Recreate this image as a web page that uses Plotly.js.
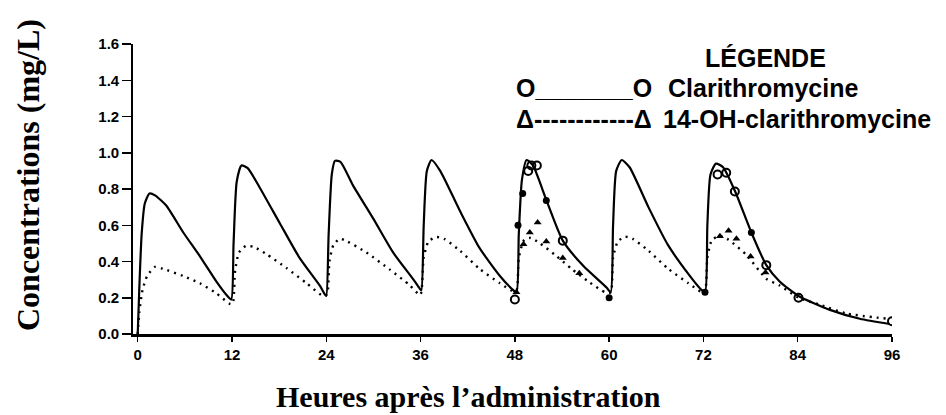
<!DOCTYPE html>
<html>
<head>
<meta charset="utf-8">
<script src="https://cdn.plot.ly/plotly-3.0.1.min.js"></script>
<style>
html,body{margin:0;padding:0;background:#fff;}
#chart{width:946px;height:415px;}
</style>
</head>
<body>
<div id="chart"></div>
<script>
// ---- Data (hours, mg/L) ----
// Clarithromycine model curve (solid line)
var clariT = [0,0.2,0.5,0.9,1.5,2.2,3.6,5.8,7.9,10.0,11.3,
  11.9,12.2,12.6,13.2,14.0,15.5,18.1,20.6,23.2,23.8,
  24.0,24.3,24.7,25.1,25.8,27.4,30.0,32.5,35.1,35.9,
  36.1,36.4,36.8,37.4,38.5,41.0,43.5,46.1,47.6,
  48.2,48.5,48.9,49.5,50.3,52.0,54.1,56.7,59.7,
  60.2,60.5,60.9,61.6,62.6,65.0,67.5,70.1,71.6,
  72.2,72.5,72.9,73.6,74.5,76.0,78.1,80.0,81.7,84.1,88.1,91.9,95.7];
var clariC = [0,0.25,0.55,0.72,0.775,0.765,0.71,0.56,0.43,0.29,0.215,
  0.19,0.5,0.84,0.93,0.915,0.81,0.61,0.42,0.265,0.22,
  0.21,0.55,0.88,0.955,0.95,0.82,0.635,0.45,0.30,0.25,
  0.24,0.6,0.9,0.96,0.9,0.68,0.475,0.32,0.25,
  0.23,0.55,0.85,0.96,0.93,0.74,0.515,0.376,0.255,
  0.23,0.6,0.9,0.96,0.92,0.70,0.49,0.33,0.25,
  0.23,0.6,0.88,0.94,0.92,0.79,0.56,0.38,0.29,0.21,0.133,0.084,0.055];
// 14-OH-clarithromycine model curve (dotted line)
var ohT = [0,0.2,0.6,1.2,2.2,3.2,5.8,7.9,10.0,11.8,
  12.1,12.4,12.9,13.8,14.8,16.4,18.9,21.5,23.6,
  24.1,24.4,24.9,25.7,26.7,29.1,32.1,34.6,35.9,
  36.1,36.4,37.0,38.0,39.0,41.0,43.5,46.1,47.6,
  48.2,48.5,49.2,50.0,51.2,53.3,55.2,57.5,59.5,
  60.2,60.5,61.1,62.0,63.0,65.0,67.5,70.1,71.8,
  72.2,72.5,73.1,74.1,75.2,77.5,80.0,81.7,84.1,86.8,90.2,95.7];
var ohC = [0,0.12,0.24,0.32,0.37,0.36,0.32,0.28,0.225,0.165,
  0.17,0.35,0.45,0.487,0.48,0.44,0.365,0.28,0.21,
  0.22,0.4,0.49,0.525,0.51,0.45,0.355,0.27,0.215,
  0.23,0.42,0.51,0.535,0.525,0.46,0.36,0.28,0.24,
  0.24,0.42,0.52,0.53,0.5,0.43,0.36,0.285,0.23,
  0.23,0.42,0.51,0.537,0.525,0.46,0.36,0.28,0.23,
  0.23,0.42,0.52,0.54,0.52,0.435,0.305,0.268,0.20,0.162,0.113,0.083];
// Observed points
var clariOpenT = [48.0,49.7,50.1,50.8,54.1,73.8,74.9,76.0,80.0,84.1,96.0];
var clariOpenC = [0.19,0.90,0.93,0.93,0.515,0.88,0.89,0.786,0.38,0.20,0.07];
var clariFillT = [48.4,49.0,52.0,60.0,72.2,78.1];
var clariFillC = [0.60,0.775,0.737,0.20,0.23,0.56];
var ohPtT = [48.2,49.1,49.9,50.9,52.0,54.1,56.2,74.1,75.2,76.2,78.0,79.9];
var ohPtC = [0.23,0.495,0.56,0.615,0.51,0.42,0.335,0.54,0.57,0.525,0.428,0.34];
// Axis ticks and texts
var xTicks = [0,12,24,36,48,60,72,84,96];
var yTicks = [0,0.2,0.4,0.6,0.8,1.0,1.2,1.4,1.6];
var xTitle = "Heures après l’administration";
var yTitle = "Concentrations (mg/L)";
var legendTitle = "LÉGENDE";
var legendNames = ["Clarithromycine","14-OH-clarithromycine"];
var legendSymbols = ["O_______O","Δ------------Δ"];

var L = 133, R = 892, T = 44, B = 334;
function px2paperX(p){return (p-L)/(R-L);}
function px2paperY(p){return (B-p)/(B-T);}

var traces = [
  {x: clariT, y: clariC, mode:'lines', line:{color:'#000', width:2.2, shape:'spline', smoothing:0.6}, hoverinfo:'skip', name:legendNames[0]},
  {x: ohT, y: ohC, mode:'lines', line:{color:'#000', width:2.4, dash:'2px,5px', shape:'spline', smoothing:0.6}, hoverinfo:'skip', name:legendNames[1]},
  {x: clariOpenT, y: clariOpenC, mode:'markers', marker:{symbol:'circle-open', size:8, color:'#000', line:{width:2, color:'#000'}}, name:legendNames[0]},
  {x: clariFillT, y: clariFillC, mode:'markers', marker:{symbol:'circle', size:7, color:'#000'}, name:legendNames[0]},
  {x: ohPtT, y: ohPtC, mode:'markers', marker:{symbol:'triangle-up', size:7, color:'#000'}, name:legendNames[1]}
];

var tickFont = {family:'Liberation Sans, Arial, sans-serif', size:15, color:'#000', weight:'bold'};
var legFont = {family:'Liberation Sans, Arial, sans-serif', size:25, color:'#000', weight:'bold'};
var titleFont = {family:'Liberation Serif, Times New Roman, serif', size:30, color:'#000', weight:'bold'};

var layout = {
  width:946, height:415,
  margin:{l:L, r:946-R, t:T, b:415-B},
  paper_bgcolor:'#fff', plot_bgcolor:'#fff',
  showlegend:false,
  xaxis:{range:[-0.6,96], tickvals:xTicks, ticktext:xTicks.map(String), ticks:'outside', ticklen:5, tickwidth:1.5, tickcolor:'#000',
    showline:true, linecolor:'#000', linewidth:2.5, showgrid:false, zeroline:false, tickfont:tickFont, fixedrange:true},
  yaxis:{range:[0,1.6], tickvals:yTicks, ticktext:yTicks.map(function(v){return v.toFixed(1);}), ticks:'outside', ticklen:9, tickwidth:1.5, tickcolor:'#000',
    showline:true, linecolor:'#000', linewidth:1.8, showgrid:false, zeroline:false, tickfont:tickFont, fixedrange:true},
  annotations:[
    {text:xTitle, xref:'paper', yref:'paper', x:px2paperX(468), y:px2paperY(396), xanchor:'center', yanchor:'middle', showarrow:false, font:titleFont},
    {text:yTitle, xref:'paper', yref:'paper', x:px2paperX(28), y:px2paperY(175), xanchor:'center', yanchor:'middle', textangle:-90, showarrow:false, font:{family:titleFont.family, size:32, color:'#000', weight:'bold'}},
    {text:legendTitle, xref:'paper', yref:'paper', x:px2paperX(765), y:px2paperY(58), xanchor:'center', yanchor:'middle', showarrow:false, font:legFont},
    {text:legendSymbols[0], xref:'paper', yref:'paper', x:px2paperX(514), y:px2paperY(88), xanchor:'left', yanchor:'middle', showarrow:false, font:legFont},
    {text:legendNames[0], xref:'paper', yref:'paper', x:px2paperX(666), y:px2paperY(88), xanchor:'left', yanchor:'middle', showarrow:false, font:legFont},
    {text:legendSymbols[1], xref:'paper', yref:'paper', x:px2paperX(514), y:px2paperY(119), xanchor:'left', yanchor:'middle', showarrow:false, font:legFont},
    {text:legendNames[1], xref:'paper', yref:'paper', x:px2paperX(661), y:px2paperY(119), xanchor:'left', yanchor:'middle', showarrow:false, font:legFont}
  ]
};

Plotly.newPlot('chart', traces, layout, {displayModeBar:false, staticPlot:true});
</script>
</body>
</html>
